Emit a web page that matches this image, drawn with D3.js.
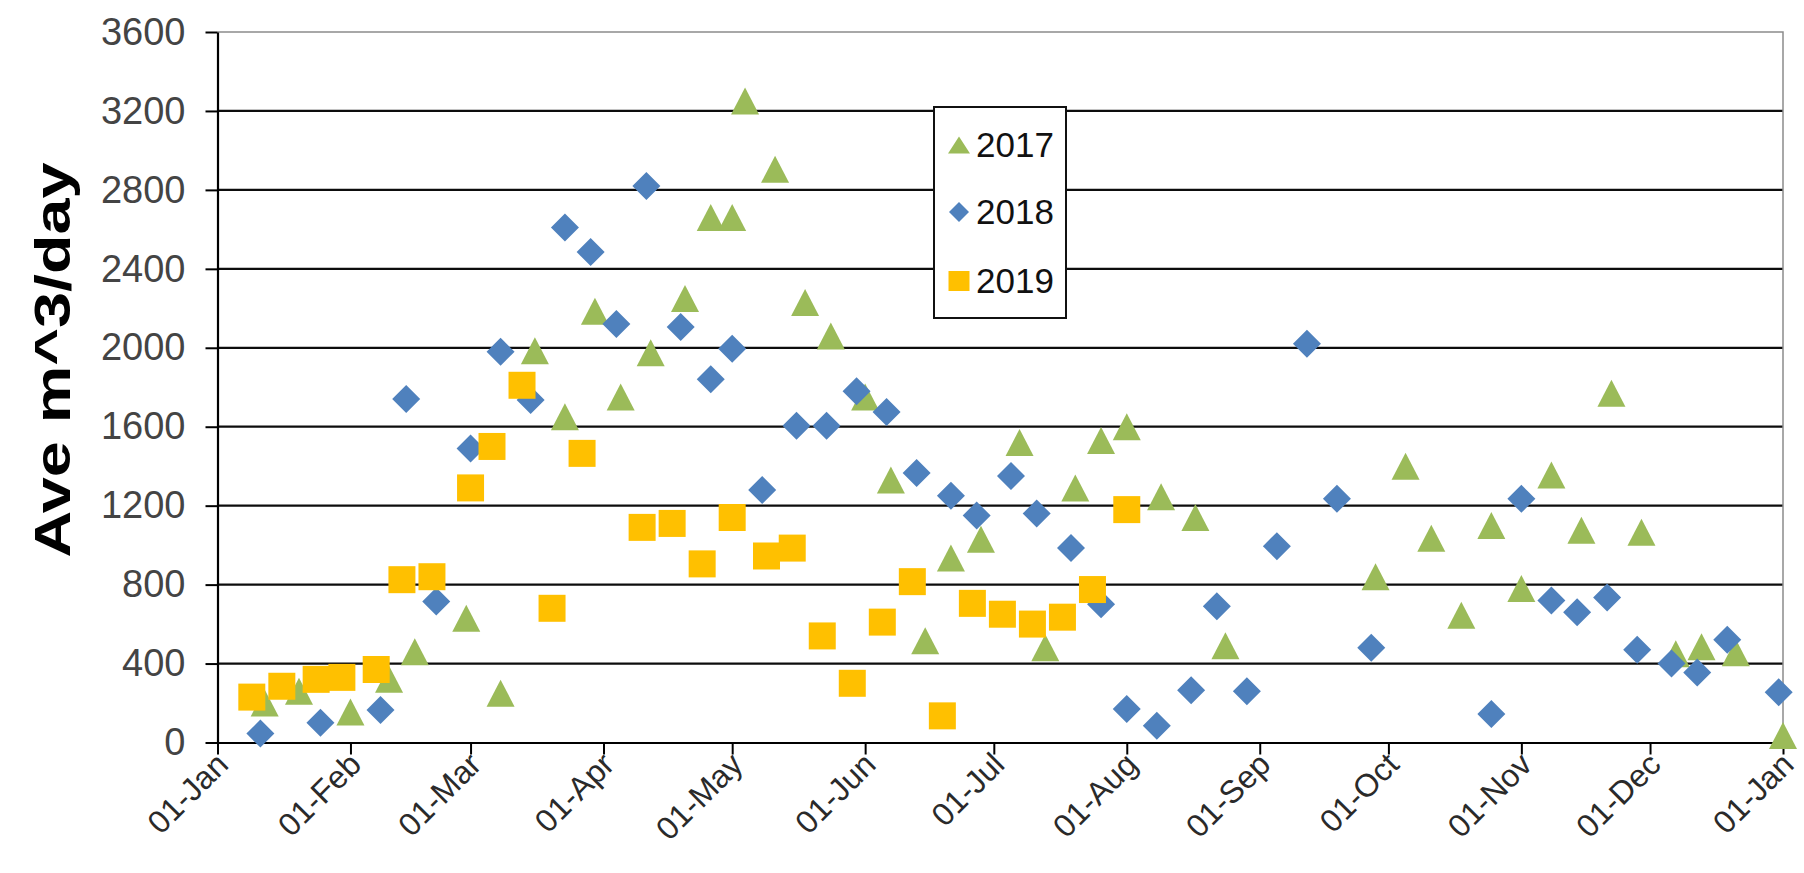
<!DOCTYPE html>
<html><head><meta charset="utf-8">
<script src="https://cdn.jsdelivr.net/npm/d3@7"></script>
<style>
html,body{margin:0;padding:0;background:#fff;}
svg{display:block;}
text{font-family:"Liberation Sans", Arial, sans-serif;}
</style>
</head><body>
<svg id="chart" width="1804" height="873"></svg>
<script>
// ---- data (x = day of year, 0 = 01-Jan) ----
const seriesNames = ["2017", "2018", "2019"];
const days2017 = [11,19,31,40,46,58,66,74,81,88,94,101,109,115,120,123,130,137,143,151,157,165,171,178,187,193,200,206,212,220,228,235,270,277,283,290,297,304,311,318,325,332,340,346,354,365];
const values2017 = [200,260,155,320,460,630,250,1985,1650,2185,1750,1975,2250,2660,2660,3250,2905,2230,2060,1750,1330,515,935,1030,1520,480,1290,1530,1600,1245,1140,490,840,1400,1035,645,1100,780,1355,1075,1770,1065,450,485,455,35];
const days2018 = [10,24,38,44,51,59,66,73,81,87,93,100,108,115,120,127,135,142,149,156,163,171,177,185,191,199,206,212,219,227,233,240,247,254,261,269,297,304,311,317,324,331,339,345,352,364];
const values2018 = [45,100,165,1740,715,1490,1980,1735,2610,2485,2120,2820,2105,1840,1995,1280,1605,1605,1780,1675,1365,1250,1150,1350,1160,985,700,170,85,265,690,260,995,2020,1235,480,145,1235,720,660,735,470,400,355,520,255];
const days2019 = [8,15,23,29,37,43,50,59,64,71,78,85,99,106,113,120,128,134,141,148,155,162,169,176,183,190,197,204,212];
const values2019 = [230,285,320,330,370,825,840,1290,1500,1810,680,1465,1090,1110,905,1140,945,985,540,300,610,815,135,705,650,600,635,775,1180];
const yTicks = [0,400,800,1200,1600,2000,2400,2800,3200,3600];
const xTickLabels = ["01-Jan","01-Feb","01-Mar","01-Apr","01-May","01-Jun","01-Jul","01-Aug","01-Sep","01-Oct","01-Nov","01-Dec","01-Jan"];
const yAxisTitle = "Ave m^3/day";
const colors = ["#9BBB59", "#4F81BD", "#FFC000"];
const shapes = ["triangle", "diamond", "square"];

// ---- layout ----
const plot = {left: 217.5, right: 1783, top: 32, bottom: 742.5};
const svg = d3.select("#chart");
svg.append("rect").attr("width", 1804).attr("height", 873).attr("fill", "#fff");

const yearStart = new Date(2017, 0, 1);
const yearEnd = new Date(2018, 0, 1);
const toDate = d => d3.timeDay.offset(yearStart, d);
const x = d3.scaleTime().domain([yearStart, yearEnd]).range([plot.left, plot.right]);
const y = d3.scaleLinear().domain([0, 3600]).range([plot.bottom, plot.top]);

// gridlines
svg.append("g").selectAll("line")
  .data(yTicks.filter(v => v > 0 && v < 3600))
  .join("line")
  .attr("x1", plot.left).attr("x2", plot.right)
  .attr("y1", d => y(d)).attr("y2", d => y(d))
  .attr("stroke", "#0d0d0d").attr("stroke-width", 2.2);

// plot border (top/right)
svg.append("path")
  .attr("d", `M${plot.left},${y(3600)}H${plot.right}V${plot.bottom}`)
  .attr("fill", "none").attr("stroke", "#8c8c8c").attr("stroke-width", 1.5);

// axes
const yAxis = svg.append("g").attr("transform", `translate(${plot.left},0)`)
  .call(d3.axisLeft(y).tickValues(yTicks).tickSize(12).tickSizeOuter(0).tickPadding(20).tickFormat(d3.format("d")));
yAxis.select(".domain").attr("stroke", "#000").attr("stroke-width", 2.2);
yAxis.selectAll(".tick line").attr("stroke", "#000").attr("stroke-width", 2);
yAxis.selectAll(".tick text").attr("font-size", 38).attr("fill", "#444")
  .attr("font-family", "'Liberation Sans', Arial, sans-serif");

const monthTicks = d3.timeMonth.range(yearStart, d3.timeDay.offset(yearEnd, 1));
const xAxis = svg.append("g").attr("transform", `translate(0,${plot.bottom})`)
  .call(d3.axisBottom(x).tickValues(monthTicks).tickSize(12).tickSizeOuter(0)
    .tickFormat((d, i) => xTickLabels[i]));
xAxis.select(".domain").attr("stroke", "#000").attr("stroke-width", 2.2);
xAxis.selectAll(".tick line").attr("stroke", "#000").attr("stroke-width", 2);
xAxis.selectAll(".tick text")
  .attr("font-size", 32).attr("fill", "#2a2a2a")
  .attr("font-family", "'Liberation Sans', Arial, sans-serif")
  .attr("text-anchor", "end")
  .attr("x", 0).attr("y", 0).attr("dy", 0)
  .attr("transform", "translate(12,24) rotate(-45)");

// y-axis title
svg.append("text")
  .attr("transform", "translate(70,360) rotate(-90)")
  .attr("text-anchor", "middle")
  .attr("font-size", 50).attr("font-weight", "bold").attr("fill", "#000")
  .attr("textLength", 395).attr("lengthAdjust", "spacingAndGlyphs")
  .text(yAxisTitle);

// marker shapes
function markerPath(shape, s) {
  if (shape === "triangle") return `M0,${-s.h/2}L${s.w/2},${s.h/2}L${-s.w/2},${s.h/2}Z`;
  if (shape === "diamond") return `M0,${-s.h/2}L${s.w/2},0L0,${s.h/2}L${-s.w/2},0Z`;
  return `M${-s.w/2},${-s.h/2}H${s.w/2}V${s.h/2}H${-s.w/2}Z`;
}
const plotSizes = {triangle: {w: 28, h: 27}, diamond: {w: 28, h: 28}, square: {w: 27, h: 27}};
const legendSizes = {triangle: {w: 22, h: 17}, diamond: {w: 20, h: 20}, square: {w: 21, h: 20}};

const allDays = [days2017, days2018, days2019];
const allValues = [values2017, values2018, values2019];
seriesNames.forEach((name, si) => {
  const pts = allDays[si].map((d, i) => ({date: toDate(d), v: allValues[si][i]}));
  svg.append("g").selectAll("path").data(pts).join("path")
    .attr("d", markerPath(shapes[si], plotSizes[shapes[si]]))
    .attr("transform", p => `translate(${x(p.date)},${y(p.v)})`)
    .attr("fill", colors[si]);
});

// legend
const lg = svg.append("g");
lg.append("rect").attr("x", 934).attr("y", 107).attr("width", 132).attr("height", 211)
  .attr("fill", "#fff").attr("stroke", "#111").attr("stroke-width", 2);
const rowY = [145, 212, 281];
seriesNames.forEach((name, si) => {
  lg.append("path").attr("d", markerPath(shapes[si], legendSizes[shapes[si]]))
    .attr("transform", `translate(959,${rowY[si]})`).attr("fill", colors[si]);
  lg.append("text").attr("x", 976).attr("y", rowY[si] + 12)
    .attr("font-size", 35).attr("fill", "#111").text(name);
});
</script>
</body></html>
